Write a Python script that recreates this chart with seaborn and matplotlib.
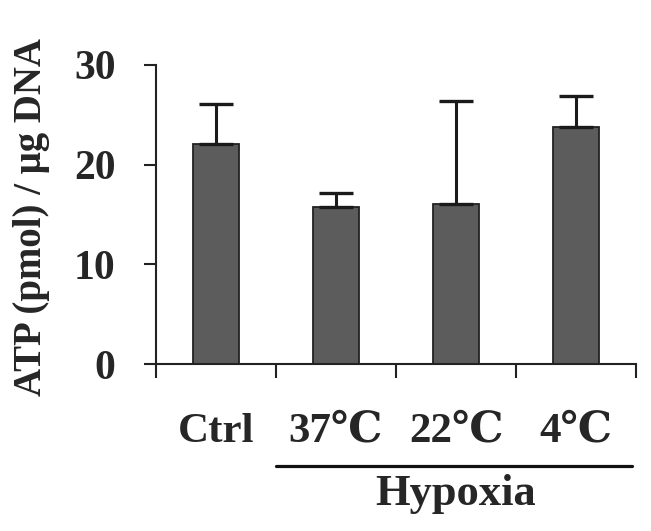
import matplotlib
matplotlib.use("Agg")
import matplotlib.pyplot as plt
import seaborn as sns
import pandas as pd

# values
groups = ["Ctrl", "37℃", "22℃", "4℃"]
atp = [22.1, 15.8, 16.1, 23.8]
atp_err = [4.0, 1.4, 10.3, 3.1]
yticks = [0, 10, 20, 30]

df = pd.DataFrame({"group": groups, "atp": atp})

sns.set_style("ticks")
plt.rcParams["font.family"] = ["Liberation Serif", "DejaVu Serif"]
plt.rcParams["font.weight"] = "bold"

fig = plt.figure(figsize=(6.51, 5.31), dpi=100)
ax = fig.add_axes([0.2396, 0.3145, 0.7374, 0.5631])

sns.barplot(data=df, x="group", y="atp", color="#5c5c5c", edgecolor="#222222",
            linewidth=1.3, width=0.39, errorbar=None, ax=ax)

# upper error bars only
ax.errorbar(range(len(groups)), atp, yerr=[[0] * len(groups), atp_err],
            fmt="none", ecolor="#1a1a1a", elinewidth=2.2, capsize=12, capthick=2.4)

ax.set_xlim(-0.5, len(groups) - 0.5)
ax.set_ylim(0, 30)
ax.set_yticks(yticks)
ax.set_yticklabels([str(v) for v in yticks], fontsize=30, fontweight="bold")

# category labels sit on major ticks (hidden); boundary ticks are minor ticks
ax.set_xticks(range(len(groups)))
ax.set_xticklabels(groups, fontsize=31, fontweight="bold")
ax.set_xticks([i - 0.5 for i in range(len(groups) + 1)], minor=True)
ax.tick_params(axis="x", which="major", length=0, pad=35)
ax.tick_params(axis="x", which="minor", length=10, width=1.5, direction="out", color="#222222")
ax.tick_params(axis="y", length=9, width=1.5, pad=20, color="#222222")

for side in ["top", "right"]:
    ax.spines[side].set_visible(False)
for side in ["left", "bottom"]:
    ax.spines[side].set_linewidth(1.5)
    ax.spines[side].set_color("#222222")

ax.set_xlabel("")
ax.set_ylabel("ATP (pmol) / μg DNA", fontsize=28, fontweight="bold")
ax.yaxis.set_label_coords(-0.221, 0.49)

# Hypoxia bracket under the three hypoxia groups
trans = ax.get_xaxis_transform()
ax.plot([0.5, 3.47], [-0.341, -0.341], color="#111111", lw=2.3,
        transform=trans, clip_on=False)
ax.text(2.0, -0.435, "Hypoxia", transform=trans, ha="center", va="center",
        fontsize=32, fontweight="bold")

fig.savefig("out.png", dpi=100)
